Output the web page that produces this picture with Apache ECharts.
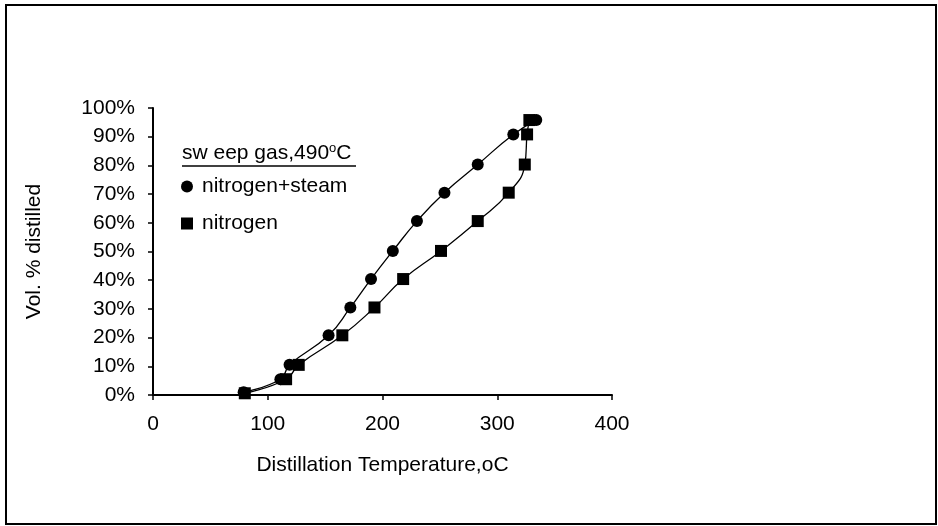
<!DOCTYPE html>
<html>
<head>
<meta charset="utf-8">
<script src="https://cdn.jsdelivr.net/npm/echarts@6/dist/echarts.min.js"></script>
<style>
html,body{margin:0;padding:0;background:#fff;}
#chart{width:938px;height:526px;}
</style>
</head>
<body>
<div id="chart"></div>
<script>
// Data
var steamTemps  = [79, 111, 119, 153, 172, 190, 209, 230, 254, 283, 314, 334];
var steamVols   = [1, 5.5, 10.5, 20.8, 30.5, 40.4, 50.2, 60.6, 70.5, 80.3, 90.8, 95.8];
var nitroTemps  = [80, 116, 127, 165, 193, 218, 251, 283, 310, 324, 326, 328];
var nitroVols   = [0.6, 5.5, 10.5, 20.8, 30.5, 40.4, 50.2, 60.6, 70.5, 80.3, 90.8, 95.8];
var xTicks = [0, 100, 200, 300, 400];
var yTickStep = 10;
var seriesNames = ['nitrogen+steam', 'nitrogen'];
var legendTitle = 'sw eep gas,490';
var xTitle = 'Distillation Temperature,oC';
var yTitle = 'Vol. % distilled';

function pairs(xs, ys) { return xs.map(function (x, i) { return [x, ys[i]]; }); }

var FONT = 'Liberation Sans, Arial, sans-serif';
var FS = 21;
var chart = echarts.init(document.getElementById('chart'), null, {renderer: 'canvas'});
chart.setOption({
  animation: false,
  backgroundColor: '#fff',
  textStyle: {fontFamily: FONT, color: '#000'},
  grid: {left: 153, right: 326, top: 108, bottom: 131, containLabel: false},
  xAxis: {
    type: 'value', min: xTicks[0], max: xTicks[xTicks.length - 1], interval: 100,
    name: xTitle, nameLocation: 'middle', nameGap: 60,
    nameTextStyle: {fontSize: FS, color: '#000', fontFamily: FONT},
    axisLine: {lineStyle: {color: '#000', width: 2}},
    axisTick: {show: true, length: 5, lineStyle: {color: '#000', width: 1.5}},
    axisLabel: {fontSize: FS, color: '#000', margin: 19, fontFamily: FONT},
    splitLine: {show: false}
  },
  yAxis: {
    type: 'value', min: 0, max: 100, interval: yTickStep,
    name: yTitle, nameLocation: 'middle', nameGap: 108, nameRotate: 90,
    nameTextStyle: {fontSize: FS, color: '#000', fontFamily: FONT},
    axisLine: {show: true, lineStyle: {color: '#000', width: 2}},
    axisTick: {show: true, length: 5, lineStyle: {color: '#000', width: 1.5}},
    axisLabel: {fontSize: FS, color: '#000', margin: 18, formatter: '{value}%', fontFamily: FONT},
    splitLine: {show: false}
  },
  legend: {
    orient: 'vertical', left: 181, top: 176, itemGap: 16, padding: 0,
    itemWidth: 12, itemHeight: 12,
    textStyle: {fontSize: FS, color: '#000', fontFamily: FONT, padding: [0, 0, 0, 4]},
    data: [
      {name: seriesNames[0], icon: 'circle'},
      {name: seriesNames[1], icon: 'rect'}
    ]
  },
  graphic: [
    {type: 'rect', shape: {x: 6, y: 5, width: 930, height: 519}, style: {fill: 'none', stroke: '#000', lineWidth: 2}, silent: true},
    {type: 'text', left: 182, top: 142, style: {
      text: '{a|' + legendTitle + '}{s|o}{a|C}',
      rich: {a: {fontSize: FS, fontFamily: FONT, fill: '#000'},
             s: {fontSize: 13, fontFamily: FONT, fill: '#000', padding: [0, 0, 10, 0]}}
    }},
    {type: 'line', shape: {x1: 182, y1: 166, x2: 356, y2: 166}, style: {stroke: '#000', lineWidth: 1.5}}
  ],
  series: [
    {
      name: seriesNames[0], type: 'line', smooth: 0.5,
      data: pairs(steamTemps, steamVols),
      symbol: 'circle', symbolSize: 12,
      itemStyle: {color: '#000'}, lineStyle: {color: '#000', width: 1.3}
    },
    {
      name: seriesNames[1], type: 'line', smooth: 0.5,
      data: pairs(nitroTemps, nitroVols),
      symbol: 'rect', symbolSize: 12,
      itemStyle: {color: '#000'}, lineStyle: {color: '#000', width: 1.3}
    }
  ]
});
</script>
</body>
</html>
